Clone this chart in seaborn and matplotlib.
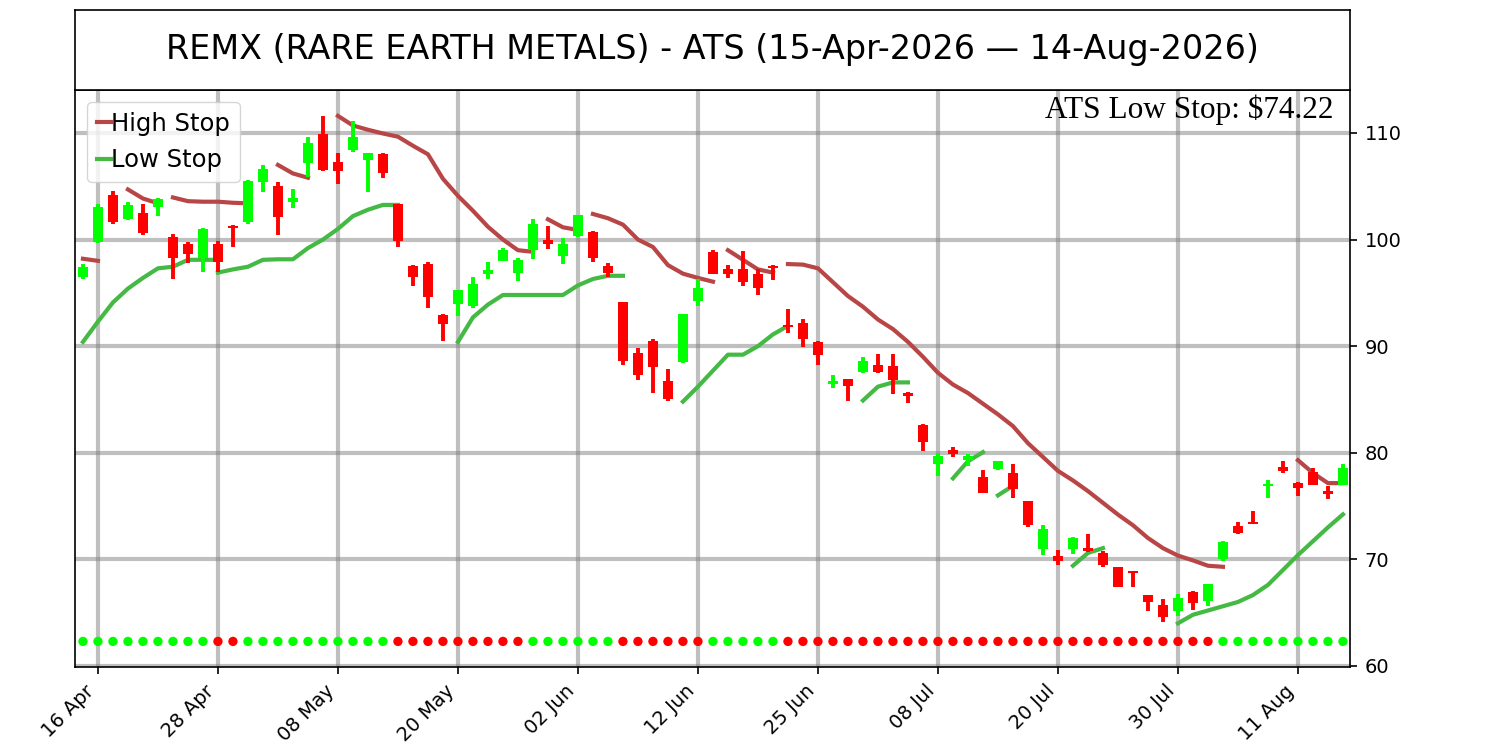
import numpy as np
import pandas as pd
import matplotlib
matplotlib.use("Agg")
import matplotlib.pyplot as plt
import seaborn as sns
from matplotlib.lines import Line2D

# ---------------- data ----------------
ticker = "REMX"
fund_name = "RARE EARTH METALS"
start_date = "2026-04-15"
end_date = "2026-08-14"
market_holidays = ["2026-05-25", "2026-06-19", "2026-07-03"]

opens = [96.5, 99.8, 104.2, 101.9, 102.5, 103.1, 100.2, 99.6, 98.3, 99.6,
         101.3, 101.6, 105.4, 105.0, 103.5, 107.2, 109.9, 107.3, 108.4, 107.5,
         108.0, 103.3, 97.5, 97.7, 92.9, 94.0, 93.8, 96.8, 98.0, 96.9,
         99.0, 100.0, 98.5, 100.3, 100.7, 97.5, 94.1, 89.4, 90.5, 86.7,
         88.5, 94.2, 98.8, 97.2, 97.2, 96.8, 97.5, 92.0, 92.2, 90.4,
         86.45, 86.9, 87.6, 88.2, 88.1, 85.6, 82.6, 78.9, 80.25, 79.3,
         77.7, 78.45, 78.1, 75.5, 70.95, 70.35, 71.0, 71.1, 70.6, 69.3,
         68.9, 66.65, 65.7, 65.2, 66.9, 66.1, 70.0, 73.1, 73.5, 76.9,
         78.7, 77.2, 78.2, 76.45, 77.0]
highs = [97.7, 103.3, 104.6, 103.5, 103.3, 103.9, 100.5, 99.8, 101.1, 99.9,
         101.35, 105.6, 107.0, 105.4, 104.75, 109.6, 111.6, 108.1, 111.1, 108.1,
         108.15, 103.35, 97.6, 97.9, 93.0, 95.3, 96.5, 97.9, 99.2, 98.3,
         101.9, 101.3, 100.1, 102.3, 100.8, 97.8, 94.15, 89.8, 90.7, 87.9,
         93.0, 96.3, 99.0, 97.6, 98.9, 97.2, 97.6, 93.5, 92.5, 90.5,
         87.3, 86.95, 89.0, 89.3, 89.3, 85.7, 82.65, 80.0, 80.5, 79.9,
         78.4, 79.25, 78.9, 75.5, 73.2, 70.9, 72.1, 72.4, 70.8, 69.3,
         68.95, 66.7, 66.3, 66.75, 67.0, 67.7, 71.7, 73.5, 74.5, 77.45,
         79.2, 77.25, 78.6, 76.9, 78.95]
lows = [96.3, 99.7, 101.5, 101.8, 100.4, 102.2, 96.3, 97.8, 97.0, 97.0,
        99.3, 101.5, 104.5, 100.4, 103.0, 105.9, 106.4, 105.2, 108.2, 104.5,
        105.75, 99.3, 95.6, 93.6, 90.5, 92.8, 93.6, 96.3, 98.0, 96.1,
        98.2, 99.1, 97.7, 100.2, 97.9, 96.5, 88.2, 86.8, 85.6, 84.9,
        88.4, 93.8, 96.8, 96.4, 95.6, 94.8, 96.2, 91.2, 89.95, 88.2,
        86.1, 84.9, 87.5, 87.5, 85.5, 84.7, 80.2, 77.85, 79.6, 78.8,
        76.2, 78.4, 75.8, 73.0, 70.4, 69.5, 70.5, 70.7, 69.3, 67.4,
        67.4, 65.2, 64.1, 64.7, 65.25, 65.65, 69.8, 72.4, 73.3, 75.8,
        78.1, 75.9, 77.0, 75.7, 77.0]
closes = [97.4, 103.1, 101.6, 103.2, 100.6, 103.8, 98.3, 98.6, 101.0, 97.9,
          101.1, 105.5, 106.6, 102.1, 103.9, 109.1, 106.5, 106.4, 109.6, 108.1,
          106.2, 99.9, 96.5, 94.6, 92.1, 95.3, 95.8, 97.1, 99.0, 98.1,
          101.5, 99.6, 99.6, 102.3, 98.3, 96.9, 88.6, 87.3, 88.0, 85.0,
          93.0, 95.5, 96.8, 96.8, 96.0, 95.5, 97.3, 91.8, 90.65, 89.2,
          86.7, 86.3, 88.6, 87.6, 86.8, 85.3, 81.0, 79.7, 79.9, 79.7,
          76.2, 79.2, 76.6, 73.2, 72.8, 69.85, 72.0, 70.8, 69.5, 67.4,
          68.7, 66.0, 64.6, 66.4, 65.9, 67.7, 71.6, 72.45, 73.3, 77.05,
          78.3, 76.7, 77.0, 76.15, 78.6]

# trend state per bar: U = low stop regime (green dot), D = high stop regime (red dot)
trend = list("UUUUUUUUU" "DD" "UUUUUUUUUU" "DDDDDDDDD" "UUUUUU" "DDDDDD"
             "UUUUU" "DDDDDDDDDDDDDDDDDDDDDDDDDDDDD" "UUUUUUUUU")
signal_level = 62.3

# stop-line segments: (first bar index, values)
high_stop_segments = [
    (0, [98.2, 98.0]),
    (3, [104.7, 103.85, 103.4]),
    (6, [103.95, 103.6, 103.55, 103.55, 103.45, 103.4]),
    (13, [107.0, 106.2, 105.8]),
    (17, [111.6, 110.7, 110.3, 109.95, 109.65, 108.8, 108.0, 105.7, 104.1,
          102.7, 101.2, 100.0, 99.0, 98.85]),
    (31, [101.9, 101.15, 100.9]),
    (34, [102.4, 102.0, 101.4, 100.0, 99.3, 97.6, 96.8, 96.4, 96.05]),
    (43, [99.0, 98.1, 97.2, 96.9]),
    (47, [97.7, 97.65, 97.3, 96.0, 94.7, 93.7, 92.5, 91.6, 90.4, 89.0,
          87.5, 86.4, 85.6, 84.6, 83.6, 82.5, 80.9, 79.6, 78.3, 77.4,
          76.4, 75.3, 74.2, 73.2, 72.0, 71.05, 70.35, 69.9, 69.4, 69.3]),
    (81, [79.3, 78.1, 77.15, 77.15]),
]
low_stop_segments = [
    (0, [90.4, 92.3, 94.1, 95.4, 96.4, 97.3, 97.45, 98.1, 98.1, 98.1]),
    (9, [96.9, 97.2, 97.45, 98.1, 98.15, 98.15, 99.2, 100.0, 101.0, 102.2,
         102.8, 103.25, 103.25]),
    (25, [90.4, 92.7, 93.9, 94.8, 94.8, 94.8, 94.8, 94.8, 95.7, 96.3, 96.6, 96.6]),
    (40, [84.8, 86.2, 87.7, 89.2, 89.2, 90.0, 91.1, 91.9]),
    (52, [84.9, 86.2, 86.6, 86.6]),
    (58, [77.6, 79.2, 80.05]),
    (61, [76.0, 76.9]),
    (66, [69.4, 70.6, 71.05]),
    (73, [64.0, 64.8, 65.2, 65.6, 66.0, 66.65, 67.6, 69.0, 70.4, 71.7, 73.0, 74.22]),
]

# ---------------- styling ----------------
UP = "#00ff00"
DOWN = "#ff0000"
HS_COLOR = "#b94646"
LS_COLOR = "#44b944"

plt.rcParams["axes.linewidth"] = 1.2

dates = pd.bdate_range(start_date, end_date, freq="C", holidays=market_holidays)
n = len(dates)
idx = np.arange(n)

o = np.array(opens)
c = np.array(closes)
h = np.array(highs)
l = np.array(lows)
bar_colors = np.where(c >= o, UP, DOWN)

fig = plt.figure(figsize=(15, 7.5), dpi=100)
ax = fig.add_axes([0.05, 1 - 667 / 750, 0.85, (667 - 90) / 750])
tax = fig.add_axes([0.05, 1 - 90 / 750, 0.85, 80 / 750])

ax.set_axisbelow(True)
ax.grid(True, color="gray", alpha=0.5, linewidth=3)

# stop lines
rows = []
for sid, (s, vals) in enumerate(high_stop_segments):
    for k, v in enumerate(vals):
        rows.append({"i": s + k, "value": v, "series": "High Stop", "seg": f"H{sid}"})
for sid, (s, vals) in enumerate(low_stop_segments):
    for k, v in enumerate(vals):
        rows.append({"i": s + k, "value": v, "series": "Low Stop", "seg": f"L{sid}"})
stops = pd.DataFrame(rows)
sns.lineplot(data=stops, x="i", y="value", hue="series", units="seg",
             estimator=None, palette={"High Stop": HS_COLOR, "Low Stop": LS_COLOR},
             linewidth=3, legend=False, ax=ax, zorder=2)

# candles
ax.vlines(idx, l, h, colors=bar_colors, linewidth=2.8, zorder=3)
ax.bar(idx, np.abs(c - o), bottom=np.minimum(o, c), width=0.65,
       color=bar_colors, linewidth=0, zorder=4)

# trend dots
dots = pd.DataFrame({"i": idx, "y": signal_level, "trend": trend})
sns.scatterplot(data=dots, x="i", y="y", hue="trend",
                palette={"U": UP, "D": DOWN}, s=45, edgecolor="none",
                legend=False, ax=ax, zorder=3)

ax.set_xlabel("")
ax.set_ylabel("")
ax.set_xlim(-0.53, n - 0.53)
ax.set_ylim(59.9, 114.03)
tick_idx = idx[1::8]
ax.set_xticks(tick_idx)
ax.set_xticklabels([dates[i].strftime("%d %b") for i in tick_idx],
                   rotation=45, ha="right")
ax.yaxis.tick_right()
ax.set_yticks([60, 70, 80, 90, 100, 110])
ax.tick_params(axis="both", labelsize=14, length=5.25, width=1.2, pad=5.25)

handles = [Line2D([], [], color=HS_COLOR, lw=3), Line2D([], [], color=LS_COLOR, lw=3)]
ax.legend(handles, ["High Stop", "Low Stop"], loc="upper left", fontsize=17.5,
          handlelength=0.6, handletextpad=0.0)

last_low = low_stop_segments[-1][1][-1]
ax.text(0.9867, 0.951, f"ATS Low Stop: ${last_low:.2f}", transform=ax.transAxes,
        ha="right", va="baseline", fontsize=22.5, family="Liberation Serif")

tax.set_xticks([])
tax.set_yticks([])
title = (f"{ticker} ({fund_name}) - ATS ({dates[0]:%d-%b-%Y} \u2014 "
         f"{dates[-1]:%d-%b-%Y})")
tax.text(0.5, 0.5, title, ha="center", va="center", fontsize=24,
         transform=tax.transAxes)

fig.savefig("out.png", dpi=100)
